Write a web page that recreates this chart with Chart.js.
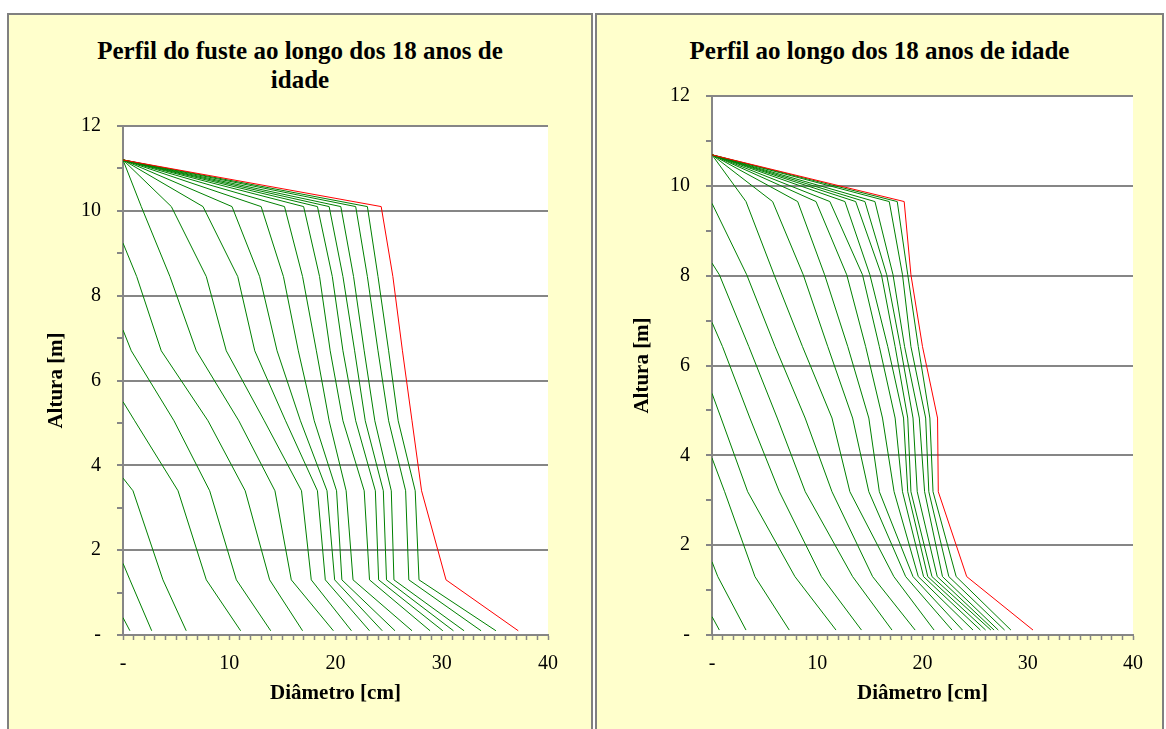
<!DOCTYPE html>
<html>
<head>
<meta charset="utf-8">
<script src="https://cdn.jsdelivr.net/npm/chart.js@4.4.1/dist/chart.umd.min.js"></script>
<style>
  html, body { margin: 0; padding: 0; background: #fff; width: 1166px; height: 729px; overflow: hidden; }
  .painel { position: absolute; box-sizing: border-box; border: 2px solid #808080; background: #FFFFCC; }
  .caixa { position: absolute; }
  .titulo { position: absolute; text-align: center; font: bold 25px 'Liberation Serif', 'Times New Roman', serif; line-height: 29px; color: #000; }
</style>
</head>
<body>
<div class="painel" style="left:7px; top:13px; width:586px; height:740px;"></div>
<div class="painel" style="left:595px; top:13px; width:569px; height:740px;"></div>
<div class="titulo" style="left:7px; top:36px; width:586px;">Perfil do fuste ao longo dos 18 anos de<br>idade</div>
<div class="titulo" style="left:595px; top:36px; width:569px;">Perfil ao longo dos 18 anos de idade</div>
<div class="caixa" style="left:0; top:0; width:593px; height:729px;"><canvas id="fuste"></canvas></div>
<div class="caixa" style="left:595px; top:0; width:571px; height:729px;"><canvas id="perfil"></canvas></div>
<script>
// alturas das secções (m) e altura total de cada idade; último = vermelho
const alturasFuste = [0.1, 1.3, 3.4, 5.05, 6.7, 8.45, 10.1];
const topoFuste = [0.41, 1.69, 3.7, 5.5, 7.19, 9.24, 11.2, 11.2, 11.2, 11.2, 11.2, 11.2, 11.2, 11.2, 11.2, 11.2, 11.2, 11.2, 11.2];
const diamFuste = [
  [0.65],
  [2.7, 0.65],
  [5.95, 3.76, 0.94],
  [11.07, 7.84, 5.18, 1.1],
  [13.9, 10.67, 8.16, 4.8, 0.78],
  [16.9, 13.8, 11.5, 8.0, 3.6, 1.29],
  [19.8, 15.84, 14.3, 10.9, 6.9, 4.42, 1.72],
  [21.5, 17.72, 16.8, 13.3, 9.72, 7.84, 4.55],
  [23.2, 19.04, 18.3, 15.3, 12.4, 10.8, 7.53],
  [24.4, 19.92, 19.2, 16.7, 14.5, 12.86, 10.26],
  [25.6, 20.6, 20.1, 18.0, 16.5, 15.1, 13.0],
  [27.2, 21.65, 21.0, 19.4, 18.2, 16.9, 15.2],
  [28.9, 23.2, 22.7, 20.7, 19.5, 18.5, 17.0],
  [30.1, 24.06, 23.75, 21.9, 20.7, 19.7, 18.3],
  [31.1, 24.8, 24.5, 22.8, 21.8, 20.7, 19.4],
  [32.1, 25.5, 25.25, 23.7, 22.7, 21.7, 20.5],
  [33.7, 26.9, 26.6, 25.0, 24.0, 23.0, 21.9],
  [35.1, 27.86, 27.5, 25.9, 25.0, 24.0, 23.0],
  [37.2, 30.4, 28.1, 27.2, 26.3, 25.4, 24.3]
];

const alturasPerfil = [0.11, 1.3, 3.19, 4.83, 6.42, 8.02, 9.65];
const topoPerfil = [0.41, 1.63, 3.94, 5.38, 6.96, 8.28, 9.61, 10.69, 10.69, 10.69, 10.69, 10.69, 10.69, 10.69, 10.69, 10.69, 10.69, 10.69, 10.69];
const diamPerfil = [
  [0.7],
  [3.23, 0.55],
  [7.34, 4.08, 1.2],
  [11.78, 7.88, 3.39, 0.86],
  [14.2, 10.4, 6.4, 3.6, 1.0],
  [17.1, 13.36, 8.86, 6.2, 3.5, 0.7],
  [19.3, 15.26, 11.4, 8.85, 6.0, 3.3],
  [21.1, 17.28, 13.1, 11.4, 8.6, 5.9, 3.23],
  [22.8, 18.4, 14.9, 13.36, 11.0, 8.67, 5.76],
  [23.8, 19.1, 15.9, 14.9, 12.9, 10.7, 8.14],
  [24.8, 19.6, 17.3, 16.2, 14.6, 12.8, 9.88],
  [25.5, 20.1, 18.1, 17.4, 15.9, 14.3, 11.2],
  [26.0, 20.5, 18.6, 18.2, 16.7, 15.0, 12.63],
  [26.5, 20.9, 18.9, 18.6, 17.4, 16.1, 13.65],
  [26.8, 21.4, 19.5, 19.1, 17.9, 16.6, 14.53],
  [27.2, 21.9, 20.2, 19.7, 18.3, 17.2, 15.48],
  [27.8, 22.5, 20.6, 20.3, 18.9, 18.1, 16.84],
  [28.4, 23.2, 21.0, 20.7, 19.6, 18.6, 17.6],
  [30.5, 24.2, 21.5, 21.43, 20.0, 18.9, 18.26]
];

const ticksX = { 0: '-', 10: '10', 20: '20', 30: '30', 40: '40' };
const ticksY = { 0: '-', 2: '2', 4: '4', 6: '6', 8: '8', 10: '10', 12: '12' };

const CINZA = '#868686';
const SERIF = "'Liberation Serif', 'Times New Roman', serif";

const fundoBranco = {
  id: 'fundoBranco',
  beforeDraw(chart) {
    const { ctx, chartArea: a } = chart;
    ctx.save();
    ctx.fillStyle = '#FFFFFF';
    ctx.fillRect(a.left, a.top, a.right - a.left, a.bottom - a.top);
    ctx.restore();
  }
};

function montarSeries(alturas, topo, diam) {
  return diam.map((linha, i) => {
    const pts = linha.map((d, k) => ({ x: d, y: alturas[k] }));
    pts.push({ x: 0, y: topo[i] });
    const ultimo = i === diam.length - 1;
    return {
      data: pts,
      showLine: true,
      borderColor: ultimo ? '#FF0000' : '#008000',
      borderWidth: 1,
      pointRadius: 0,
      tension: 0,
      order: ultimo ? 0 : 1
    };
  });
}

function desenhar(id, alturas, topo, diam, lay) {
  new Chart(document.getElementById(id), {
    type: 'scatter',
    data: { datasets: montarSeries(alturas, topo, diam) },
    plugins: [fundoBranco],
    options: {
      responsive: true,
      maintainAspectRatio: false,
      animation: false,
      layout: { padding: { left: 0, top: lay.top, right: lay.right, bottom: 0 } },
      plugins: { legend: { display: false }, tooltip: { enabled: false } },
      scales: {
        x: {
          type: 'linear', min: 0, max: 40,
          afterFit: (s) => { s.height = 94; },
          border: { display: true, color: CINZA, width: 2 },
          grid: { drawOnChartArea: false, drawTicks: true, tickLength: 5, tickColor: CINZA, tickWidth: 1.5 },
          ticks: {
            stepSize: 1, autoSkip: false, maxRotation: 0, padding: 12,
            color: '#000', font: { family: SERIF, size: 20 },
            callback: (v) => ticksX[v] !== undefined ? ticksX[v] : ''
          },
          title: {
            display: true, text: 'Diâmetro [cm]', color: '#000',
            font: { family: SERIF, size: 21, weight: 'bold' },
            padding: { top: 0, bottom: 23 }
          }
        },
        y: {
          type: 'linear', min: 0, max: 12,
          afterFit: (s) => { s.width = lay.yw; },
          border: { display: true, color: CINZA, width: 2 },
          grid: {
            drawOnChartArea: true, drawTicks: true, tickLength: 6, tickColor: CINZA, lineWidth: 2,
            color: (c) => (c.tick && c.tick.value % 2 === 0) ? CINZA : 'rgba(0,0,0,0)'
          },
          ticks: {
            stepSize: 1, autoSkip: false, padding: 16,
            color: '#000', font: { family: SERIF, size: 20 },
            callback: (v) => ticksY[v] !== undefined ? ticksY[v] : ''
          },
          title: {
            display: true, text: 'Altura [m]', color: '#000',
            font: { family: SERIF, size: 21, weight: 'bold' },
            padding: { top: lay.ty, bottom: 0 }
          }
        }
      }
    }
  });
}

desenhar('fuste', alturasFuste, topoFuste, diamFuste, { top: 126, right: 45, yw: 123, ty: 44 });
desenhar('perfil', alturasPerfil, topoPerfil, diamPerfil, { top: 96, right: 33, yw: 117, ty: 35 });
</script>
</body>
</html>
